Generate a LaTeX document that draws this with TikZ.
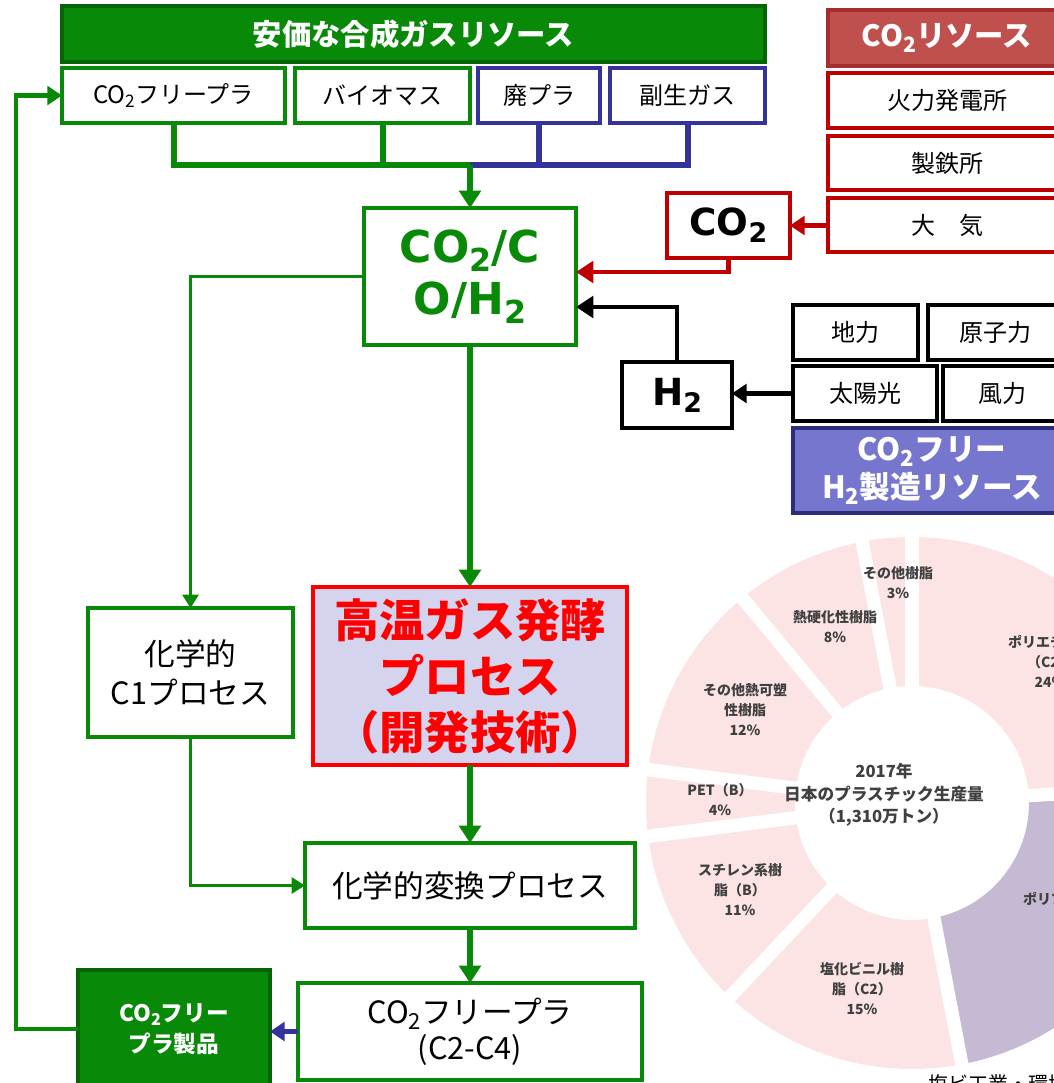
\documentclass[tikz,border=0pt]{standalone}
\usepackage{fontspec}
\usepackage{graphicx}
\setmainfont{Noto Sans CJK JP}
\newfontfamily\vb{DejaVu Sans}
\usetikzlibrary{arrows.meta}
\definecolor{G}{RGB}{8,138,8}
\definecolor{DG}{RGB}{5,100,5}
\definecolor{B}{RGB}{51,51,153}
\definecolor{R}{RGB}{192,0,0}
\definecolor{RH}{RGB}{192,80,77}
\definecolor{RHD}{RGB}{165,45,45}
\definecolor{RB}{RGB}{255,0,0}
\definecolor{LAV}{RGB}{212,212,238}
\definecolor{PUR}{RGB}{118,118,207}
\definecolor{DPUR}{RGB}{44,44,120}
\definecolor{PINK}{RGB}{252,228,228}
\definecolor{PPC}{RGB}{197,185,211}
\definecolor{TXT}{RGB}{64,64,64}
\newcommand\dn[1]{\raisebox{-0.35ex}{\scalebox{0.72}{#1}}}
\newcommand\ro{199.5pt}
\newcommand\ri{87.75pt}
\newcommand\seg[3]{\fill[#1] (#2:\ro) arc[start angle=#2, end angle=#3, radius=\ro] -- (#3:\ri) arc[start angle=#3, end angle=#2, radius=\ri] -- cycle;}
% box by corners: style, name, x1, y1, x2, y2, text
\newcommand\boxat[7]{\node[#1, minimum width={(#5-#3)*0.75pt}, minimum height={(#6-#4)*0.75pt}] (#2) at ({(#3+#5)/2},{(#4+#6)/2}) {#7};}
\begin{document}
\begin{tikzpicture}[x=0.75pt,y=-0.75pt,
 bx/.style={inner sep=0pt, outer sep=0pt, line width=3pt, fill=white, align=center, font=\fontsize{18}{22}\selectfont},
 gb/.style={bx, draw=G},
 bb/.style={bx, draw=B},
 rb/.style={bx, draw=R},
 kb/.style={bx, draw=black},
 big/.style={font=\vb\bfseries\fontsize{28}{32}\selectfont},
 tip/.style={-{Triangle[length=13pt,width=16pt]}},
 mtip/.style={-{Triangle[length=11pt,width=14pt]}},
 stip/.style={-{Triangle[length=10pt,width=12pt]}},
 dl/.style={text=TXT, font=\bfseries\fontsize{10.5}{15}\selectfont, align=center, inner sep=0pt},
 cl/.style={text=TXT, font=\bfseries\fontsize{12.5}{17}\selectfont, align=center, inner sep=0pt},
]
\useasboundingbox (0,0) rectangle (1054,1083);
\clip (0,0) rectangle (1054,1083);

% donut chart
\begin{scope}[shift={(912,803)}]
 \seg{PINK}{3.6}{90}
 \seg{PPC}{-79.2}{3.6}
 \seg{PINK}{-133.2}{-79.2}
 \seg{PINK}{-172.8}{-133.2}
 \seg{PINK}{-187.2}{-172.8}
 \seg{PINK}{-230.4}{-187.2}
 \seg{PINK}{-259.2}{-230.4}
 \seg{PINK}{-270}{-259.2}
 \foreach \a in {90,3.6,-79.2,-133.2,-172.8,-187.2,-230.4,-259.2}
   \draw[white, line width=10pt] (0,0) -- (\a:205pt);
\end{scope}
\node[dl] (l1) at (898,583) {その他樹脂\\3\%};
\node[dl] (l2) at (835,627) {熱硬化性樹脂\\8\%};
\node[dl] (l3) at (745,710) {その他熱可塑\\性樹脂\\12\%};
\node[dl] (l4) at (720,800) {PET（B）\\4\%};
\node[dl] (l5) at (740,890) {スチレン系樹\\脂（B）\\11\%};
\node[dl] (l6) at (862,988) {塩化ビニル樹\\脂（C2）\\15\%};
\node[dl] (l7) at (1050,661) {ポリエチレン\\（C2）\\24\%};
\node[dl] (l8) at (1072,918) {ポリプロピレン\\（C3）\\23\%};
\node[cl] (ctr) at (884,795) {2017年\\日本のプラスチック生産量\\（1,310万トン）};
\node[anchor=north west, inner sep=0pt, font=\fontsize{15}{18}\selectfont] (src) at (928,1074) {塩ビ工業・環境協会};

% top left resources
\boxat{bx, fill=G, draw=DG, line width=2.5pt, text=white, font=\bfseries\fontsize{22}{26}\selectfont}{hdr}{62}{6}{765}{62}{安価な合成ガスリソース}
\boxat{gb}{cfp}{62}{68}{285}{123}{CO\dn{2}フリープラ}
\boxat{gb}{bio}{295}{68}{470}{123}{バイオマス}
\boxat{bb}{hp}{478}{68}{600}{123}{廃プラ}
\boxat{bb}{fs}{610}{68}{765}{123}{副生ガス}

% CO2 resources
\boxat{bx, fill=RH, draw=RHD, line width=2.5pt, text=white, font=\bfseries\fontsize{22}{26}\selectfont}{crh}{828}{10}{1066}{66}{CO\dn{2}リソース}
\boxat{rb}{kp}{828}{73}{1066}{128}{火力発電所}
\boxat{rb}{st}{828}{136}{1066}{190}{製鉄所}
\boxat{rb}{atm}{828}{198}{1066}{252}{大　気}
\boxat{rb, big}{co2}{667}{193}{790}{258}{CO\dn{2}}

% syngas
\boxat{gb, line width=3.5pt, text=G, font=\vb\bfseries\fontsize{33}{39}\selectfont}{syn}{364}{208}{576}{345}{CO\dn{2}/C\\O/H\dn{2}}

% H2 resources
\boxat{kb, big}{h2}{622}{362}{732}{428}{H\dn{2}}
\boxat{kb}{geo}{793}{305}{918}{360}{地力}
\boxat{kb}{nuc}{928}{305}{1062}{360}{原子力}
\boxat{kb}{sun}{793}{366}{937}{421}{太陽光}
\boxat{kb}{wind}{943}{366}{1061}{421}{風力}
\boxat{bx, fill=PUR, draw=DPUR, line width=2.5pt, text=white, font=\bfseries\fontsize{23}{28}\selectfont}{h2r}{793}{428}{1071}{513}{CO\dn{2}フリー\\H\dn{2}製造リソース}

% processes
\boxat{gb, font=\fontsize{23}{29}\selectfont}{c1}{88}{608}{293}{737}{化学的\\C1プロセス}
\boxat{bx, draw=RB, fill=LAV, line width=3.5pt, text=RB, font=\bfseries\fontsize{34}{42}\selectfont}{htg}{313}{587}{627}{765}{高温ガス発酵\\プロセス\\（開発技術）}
\boxat{gb, font=\fontsize{23}{28}\selectfont}{conv}{305}{843}{635}{928}{化学的変換プロセス}
\boxat{gb, font=\fontsize{23}{27}\selectfont}{c24}{298}{983}{642}{1080}{CO\dn{2}フリープラ\\(C2-C4)}
\boxat{bx, fill=G, draw=DG, line width=2.5pt, text=white, font=\bfseries\fontsize{17}{23}\selectfont}{prod}{78}{970}{270}{1088}{CO\dn{2}フリー\\プラ製品}

% connectors
\coordinate (j) at (470,165);
\coordinate (fb) at (16,500);
\coordinate (y272) at (0,272);
\coordinate (y307) at (0,307);
\draw[B, line width=4.5pt] (hp.south) -- (hp.south |- j);
\draw[B, line width=4.5pt] (fs.south) |- (j);
\draw[G, line width=4.5pt] (cfp.south) |- (j);
\draw[G, line width=4.5pt] (bio.south) -- (bio.south |- j);
\draw[G, line width=4.5pt, tip] (j) -- (syn.north);

\draw[R, line width=3.5pt, mtip] (atm.west |- co2.east) -- (co2.east);
\draw[R, line width=3.5pt, tip] (co2.south) |- (syn.east |- y272);
\draw[black, line width=3.5pt, tip] (h2.north) |- (syn.east |- y307);
\draw[black, line width=3.5pt, mtip] (sun.west) -- (sun.west -| h2.east);

\draw[G, line width=2.2pt, stip] (syn.west) -| (c1.north);
\draw[G, line width=4.5pt, tip] (syn.south) -- (htg.north);
\draw[G, line width=4.5pt, tip] (htg.south) -- (conv.north);
\draw[G, line width=2.2pt, stip] (c1.south) |- (conv.west);
\draw[G, line width=4.5pt, tip] (conv.south) -- (c24.north);
\draw[B, line width=3.5pt, mtip] (c24.west) -- (c24.west -| prod.east);
\draw[G, line width=3.5pt, mtip] (prod.west) -| (fb) |- (cfp.west);
\end{tikzpicture}
\end{document}
